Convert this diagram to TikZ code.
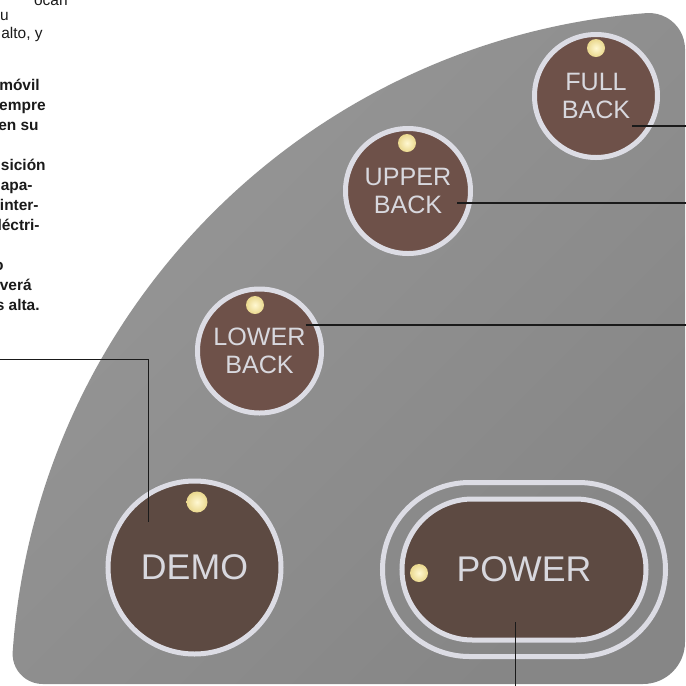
\documentclass[tikz,border=0pt]{standalone}
\usepackage{fontspec}
\setmainfont{Liberation Sans}
\usetikzlibrary{shapes.misc,calc}
\definecolor{panelhi}{HTML}{979797}
\definecolor{panello}{HTML}{868686}
\definecolor{ring}{HTML}{DCDCE4}
\definecolor{cocoa}{HTML}{6E5149}
\definecolor{darkcocoa}{HTML}{5D4A42}
\definecolor{legend}{HTML}{D8D8DE}
\definecolor{lamp}{HTML}{EAD88E}
\definecolor{lamphi}{HTML}{FFF8D2}
\definecolor{ink}{HTML}{1A1A1A}
\tikzset{
  panelfill/.style={top color=panelhi,bottom color=panello,shading angle=45},
  key/.style={circle,inner sep=0pt,draw=ring,line width=1mm,fill=cocoa,text=legend,align=center,font=\fontsize{14.3}{15.6}\selectfont},
  bigkey/.style={key,fill=darkcocoa,font=\fontsize{20.3}{24}\selectfont},
  powerframe/.style={rounded rectangle,inner sep=0pt,draw=ring,line width=1mm,minimum width=56.6mm,minimum height=34.8mm},
  powerkey/.style={rounded rectangle,inner sep=0pt,draw=ring,line width=1mm,fill=darkcocoa,text=legend,minimum width=48.8mm,minimum height=28.2mm,font=\fontsize{20.3}{24}\selectfont},
  lamp/.style={circle,inner sep=0pt,minimum size=3.6mm,inner color=lamphi,outer color=lamp},
  leader/.style={draw=ink,line width=0.7pt},
  note/.style={anchor=base east,inner sep=0pt,text=ink,font=\fontsize{8.8}{11.4}\selectfont},
  boldnote/.style={note,font=\fontsize{8.8}{11.4}\selectfont\bfseries}
}
\begin{document}
\begin{tikzpicture}[x=0.2mm,y=-0.2mm]
\useasboundingbox (0,0) rectangle (686,686);
\clip (0,0) rectangle (686,686);

% control panel
\path[panelfill] (42.6,684) -- (643,684) arc[start angle=90,end angle=0,radius=42]
  -- (685,49) arc[start angle=0,end angle=-94.48,radius=36]
  arc[start angle=-94.48,end angle=-176,radius=689]
  arc[start angle=-176,end angle=-270,radius=30] -- cycle;

% buttons
\node[key,minimum size=24.6mm] (fullback) at (596,96) {FULL\\BACK};
\node[key,minimum size=25mm] (upperback) at (408,191) {UPPER\\BACK};
\node[key,minimum size=24.8mm] (lowerback) at (259.5,351) {LOWER\\BACK};
\node[bigkey,minimum size=34.6mm] (demo) at (194.5,567.5) {DEMO};
\node[powerframe] (powerring) at (524,569.5) {};
\node[powerkey] (power) at (524,569.5) {POWER};

% indicator lamps
\node[lamp] (fullback-lamp) at (596,48) {};
\node[lamp] (upperback-lamp) at (407,143) {};
\node[lamp] (lowerback-lamp) at (255,305) {};
\node[lamp,minimum size=4.2mm] (demo-lamp) at (197,502) {};
\node[lamp] (power-lamp) at (419,573) {};

% leader lines
\coordinate (fullback-tip) at (632,126);
\coordinate (fullback-out) at (686,126);
\coordinate (upperback-tip) at (457,203);
\coordinate (upperback-out) at (686,203);
\coordinate (lowerback-tip) at (305.5,325);
\coordinate (lowerback-out) at (686,325);
\coordinate (demo-tip) at (148.6,522);
\coordinate (demo-out) at (0,359.3);
\coordinate (power-tip) at (515.6,622);
\coordinate (power-out) at (515.6,686);
\draw[leader] (fullback-tip) -- (fullback-out);
\draw[leader] (upperback-tip) -- (upperback-out);
\draw[leader] (lowerback-tip) -- (lowerback-out);
\draw[leader] (demo-out) -| (demo-tip);
\draw[leader] (power-tip) -- (power-out);

% cut-off text column
\node[note] (line1) at (68,5) {ocan};
\node[note] (line2) at (9,20.5) {u};
\node[note] (line3) at (43,38.5) {alto, y};
\node[boldnote] (line4) at (40,90.5) {móvil};
\node[boldnote] (line5) at (46,110.5) {empre};
\node[boldnote] (line6) at (39,130.5) {en su};
\node[boldnote] (line7) at (46,170.5) {sición};
\node[boldnote] (line8) at (33,190.5) {apa-};
\node[boldnote] (line9) at (39,210.5) {inter-};
\node[boldnote] (line10) at (40,230.5) {léctri-};
\node[boldnote] (line11) at (4,270.5) {o};
\node[boldnote] (line12) at (32,290.5) {verá};
\node[boldnote] (line13) at (40,310.5) {s alta.};
\end{tikzpicture}
\end{document}
